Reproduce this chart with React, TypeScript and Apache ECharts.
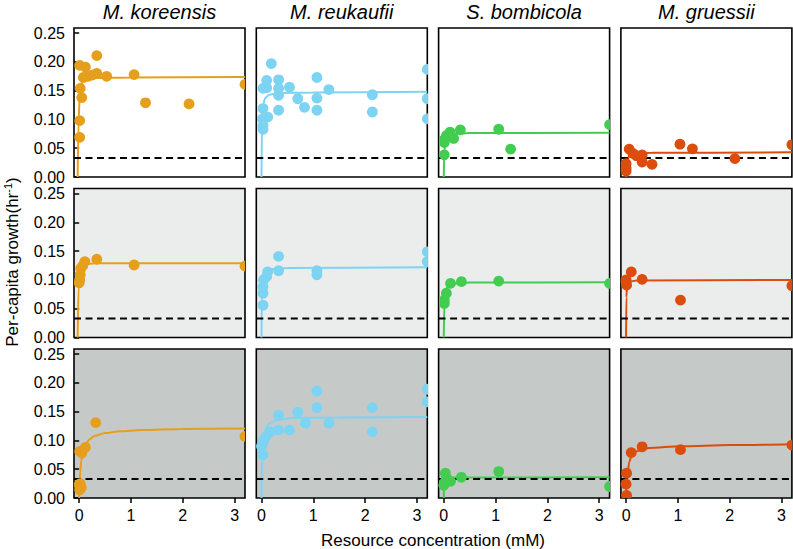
import React, { useEffect, useRef } from "react";
import * as echarts from "echarts";

// ---------- labels ----------
const SPECIES = ["M. koreensis", "M. reukaufii", "S. bombicola", "M. gruessii"];
const X_TICKS = [0, 1, 2, 3];
const Y_TICKS = [0, 0.05, 0.1, 0.15, 0.2, 0.25];
const X_MIN = -0.1;
const X_MAX = 3.2;
const Y_MIN = 0;
const Y_MAX = 0.259;
const THRESHOLD = 0.033;

// ---------- observations [resource mM, growth hr^-1] ----------
const korA = [[0.01,0.194],[0.12,0.191],[0.34,0.211],[0.34,0.180],[0.08,0.173],[0.17,0.175],[0.25,0.177],[0.53,0.175],[1.06,0.178],[1.28,0.129],[2.12,0.127],[3.2,0.161],[0.02,0.154],[0.05,0.138],[0.01,0.098],[0.01,0.069]];
const reuA = [[0.19,0.197],[0.10,0.168],[0.03,0.154],[0.10,0.155],[0.33,0.169],[0.33,0.154],[0.33,0.142],[0.54,0.156],[0.70,0.136],[0.83,0.121],[1.07,0.173],[1.07,0.137],[1.07,0.116],[1.30,0.152],[2.14,0.143],[2.14,0.113],[3.2,0.187],[3.2,0.136],[3.2,0.101],[0.33,0.116],[0.03,0.119],[0.12,0.104],[0.02,0.101],[0.03,0.089],[0.03,0.083]];
const bomA = [[0.01,0.0385],[0.01,0.060],[0.05,0.072],[0.12,0.078],[0.19,0.067],[0.32,0.082],[1.06,0.083],[1.29,0.0485],[3.2,0.091],[0.01,0.065]];
const grsA = [[0.0,0.023],[0.0,0.0105],[0.0,0.0155],[0.06,0.0485],[0.13,0.041],[0.31,0.0385],[0.31,0.026],[0.50,0.022],[1.04,0.057],[1.28,0.049],[2.10,0.032],[3.2,0.056],[0.2,0.037]];

const korB = [[0.01,0.100],[0.02,0.109],[0.03,0.120],[0.11,0.132],[0.34,0.136],[1.06,0.126],[3.2,0.124],[0.07,0.125],[0.0,0.095]];
const reuB = [[0.03,0.056],[0.03,0.077],[0.03,0.088],[0.04,0.100],[0.10,0.106],[0.12,0.114],[0.33,0.141],[0.33,0.116],[1.07,0.116],[1.07,0.109],[3.2,0.149],[3.2,0.132]];
const bomB = [[0.01,0.059],[0.05,0.077],[0.13,0.094],[0.34,0.097],[1.06,0.098],[3.2,0.094],[0.01,0.065]];
const grsB = [[0.10,0.114],[0.0,0.100],[0.01,0.091],[0.31,0.101],[1.05,0.065],[3.2,0.090],[0.0,0.097]];

const korC = [[0.0,0.023],[0.01,0.0144],[0.04,0.018],[0.02,0.025],[0.01,0.081],[0.05,0.078],[0.12,0.088],[0.32,0.131],[3.2,0.107]];
const reuC = [[0.03,0.075],[0.03,0.095],[0.04,0.101],[0.10,0.108],[0.17,0.115],[0.33,0.144],[0.33,0.118],[0.54,0.118],[0.70,0.149],[0.85,0.130],[1.07,0.186],[1.07,0.157],[1.30,0.130],[2.14,0.157],[2.14,0.115],[3.2,0.189],[3.2,0.167],[0.0,0.09]];
const bomC = [[0.01,0.026],[0.03,0.043],[0.05,0.035],[0.13,0.029],[0.34,0.036],[1.06,0.046],[3.2,0.020],[0.0,0.022]];
const grsC = [[0.01,0.0045],[0.0,0.024],[0.01,0.043],[0.10,0.079],[0.31,0.089],[1.05,0.084],[3.2,0.092]];

// ---------- fitted curves ----------
const korAfit = [[-0.03,0],[-0.01,0.1],[0.01,0.14],[0.04,0.16],[0.08,0.167],[0.15,0.170],[0.3,0.172],[1,0.173],[3.2,0.174]];
const reuAfit = [[0.0,0],[0.01,0.1],[0.03,0.125],[0.07,0.137],[0.15,0.143],[0.3,0.146],[1,0.147],[3.2,0.148]];
const bomAfit = [[0.0,0],[0.01,0.045],[0.04,0.065],[0.1,0.072],[0.2,0.075],[0.5,0.0765],[3.2,0.077]];
const grsAfit = [[0.0,0],[0.02,0.025],[0.05,0.035],[0.1,0.039],[0.2,0.041],[0.5,0.042],[3.2,0.043]];

const korBfit = [[-0.03,0],[-0.01,0.09],[0.01,0.115],[0.05,0.124],[0.1,0.127],[0.3,0.129],[3.2,0.129]];
const reuBfit = [[0.0,0],[0.01,0.08],[0.03,0.105],[0.08,0.115],[0.2,0.119],[0.5,0.121],[3.2,0.122]];
const bomBfit = [[0.0,0],[0.01,0.06],[0.03,0.08],[0.08,0.09],[0.2,0.094],[0.5,0.0955],[3.2,0.096]];
const grsBfit = [[0.0,0],[0.005,0.07],[0.02,0.09],[0.06,0.097],[0.2,0.099],[3.2,0.100]];

const korCfit = [[0.0,0],[0.01,0.025],[0.02,0.045],[0.04,0.065],[0.07,0.08],[0.1,0.088],[0.15,0.097],[0.2,0.102],[0.3,0.108],[0.5,0.113],[0.8,0.116],[1.2,0.118],[2.0,0.12],[3.2,0.121]];
const reuCfit = [[0.0,0],[0.01,0.07],[0.03,0.1],[0.07,0.118],[0.15,0.13],[0.3,0.136],[0.6,0.139],[1.5,0.14],[3.2,0.141]];
const bomCfit = [[0.0,0],[0.005,0.025],[0.02,0.032],[0.06,0.035],[0.2,0.0355],[3.2,0.036]];
const grsCfit = [[0.0,0.0],[0.02,0.035],[0.06,0.062],[0.1,0.072],[0.19,0.081],[0.44,0.087],[1.05,0.09],[2,0.092],[3.2,0.0935]];

const POINTS = [
  [korA, reuA, bomA, grsA],
  [korB, reuB, bomB, grsB],
  [korC, reuC, bomC, grsC],
];
const FITS = [
  [korAfit, reuAfit, bomAfit, grsAfit],
  [korBfit, reuBfit, bomBfit, grsBfit],
  [korCfit, reuCfit, bomCfit, grsCfit],
];

// ---------- styling ----------
const COLORS = ["#E69F1C", "#7DD3F2", "#42CD50", "#DC4C0C"];
const ROW_BG = ["#FFFFFF", "#EBEDED", "#C5CAC8"];
const FONT = "Liberation Sans";

function buildOption() {
  const grids: any[] = [];
  const xAxes: any[] = [];
  const yAxes: any[] = [];
  const series: any[] = [];
  const graphics: any[] = [];
  const left0 = 74, top0 = 28, w = 171, h = 149, dx = 182.3, dy = 160.5;

  for (let r = 0; r < 3; r++) {
    for (let c = 0; c < 4; c++) {
      const i = r * 4 + c;
      grids.push({
        left: left0 + c * dx, top: top0 + r * dy, width: w, height: h,
        show: true, backgroundColor: ROW_BG[r], borderColor: "#000", borderWidth: 1.6,
      });
      xAxes.push({
        type: "value", gridIndex: i, min: X_MIN, max: X_MAX,
        axisLine: { show: false }, splitLine: { show: false },
        axisTick: { show: r === 2, length: 5, customValues: X_TICKS, lineStyle: { color: "#000", width: 1.5 } },
        axisLabel: { show: r === 2, customValues: X_TICKS, margin: 9, fontSize: 16, color: "#000", fontFamily: FONT },
      });
      yAxes.push({
        type: "value", gridIndex: i, min: Y_MIN, max: Y_MAX,
        axisLine: { show: false }, splitLine: { show: false },
        axisTick: { show: c === 0, length: 5, customValues: Y_TICKS, lineStyle: { color: "#000", width: 1.5 } },
        axisLabel: {
          show: c === 0, customValues: Y_TICKS, margin: 9, fontSize: 16, color: "#000", fontFamily: FONT,
          formatter: (v: number) => v.toFixed(2),
        },
      });
      series.push({
        type: "line", xAxisIndex: i, yAxisIndex: i, data: FITS[r][c], showSymbol: false,
        smooth: 0.3, smoothMonotone: "x", clip: true, z: 2,
        lineStyle: { color: COLORS[c], width: 2 },
      });
      series.push({
        type: "line", xAxisIndex: i, yAxisIndex: i, data: [[X_MIN, THRESHOLD], [X_MAX, THRESHOLD]],
        showSymbol: false, clip: true, z: 3,
        lineStyle: { color: "#000", width: 2, type: [7, 4.5] },
      });
      series.push({
        type: "custom", xAxisIndex: i, yAxisIndex: i, data: POINTS[r][c], clip: true, z: 4,
        encode: { x: 0, y: 1 },
        renderItem: (_p: any, api: any) => {
          const pt = api.coord([api.value(0), api.value(1)]);
          return { type: "circle", shape: { cx: pt[0], cy: pt[1], r: 5.4 }, style: { fill: COLORS[c] } };
        },
      });
    }
  }

  for (let c = 0; c < 4; c++) {
    graphics.push({
      type: "text", x: left0 + c * dx + w / 2, y: 12,
      style: {
        text: SPECIES[c], fontSize: 20, fontStyle: "italic", fontFamily: FONT, fill: "#000",
        align: "center", verticalAlign: "middle",
      },
    });
  }
  graphics.push({
    type: "text", x: 433, y: 540,
    style: {
      text: "Resource concentration (mM)", fontSize: 17, fontFamily: FONT, fill: "#000",
      align: "center", verticalAlign: "middle",
    },
  });
  graphics.push({
    type: "text", x: 12, y: 262, rotation: Math.PI / 2,
    style: {
      text: "{a|Per-capita growth(hr}{s|-1}{a|)}",
      rich: {
        a: { fontSize: 17, fontFamily: FONT, fill: "#000", lineHeight: 20 },
        s: { fontSize: 11, fontFamily: FONT, fill: "#000", lineHeight: 20, verticalAlign: "top" },
      },
      align: "center", verticalAlign: "middle",
    },
  });

  return {
    animation: false,
    backgroundColor: "#FFFFFF",
    grid: grids,
    xAxis: xAxes,
    yAxis: yAxes,
    series,
    graphic: graphics,
  };
}

export default function App() {
  const ref = useRef<HTMLDivElement>(null);
  useEffect(() => {
    document.body.style.margin = "0";
    const chart = echarts.init(ref.current!, null, { renderer: "svg" });
    chart.setOption(buildOption() as any);
    return () => chart.dispose();
  }, []);
  return <div ref={ref} style={{ width: 793, height: 549 }} />;
}
